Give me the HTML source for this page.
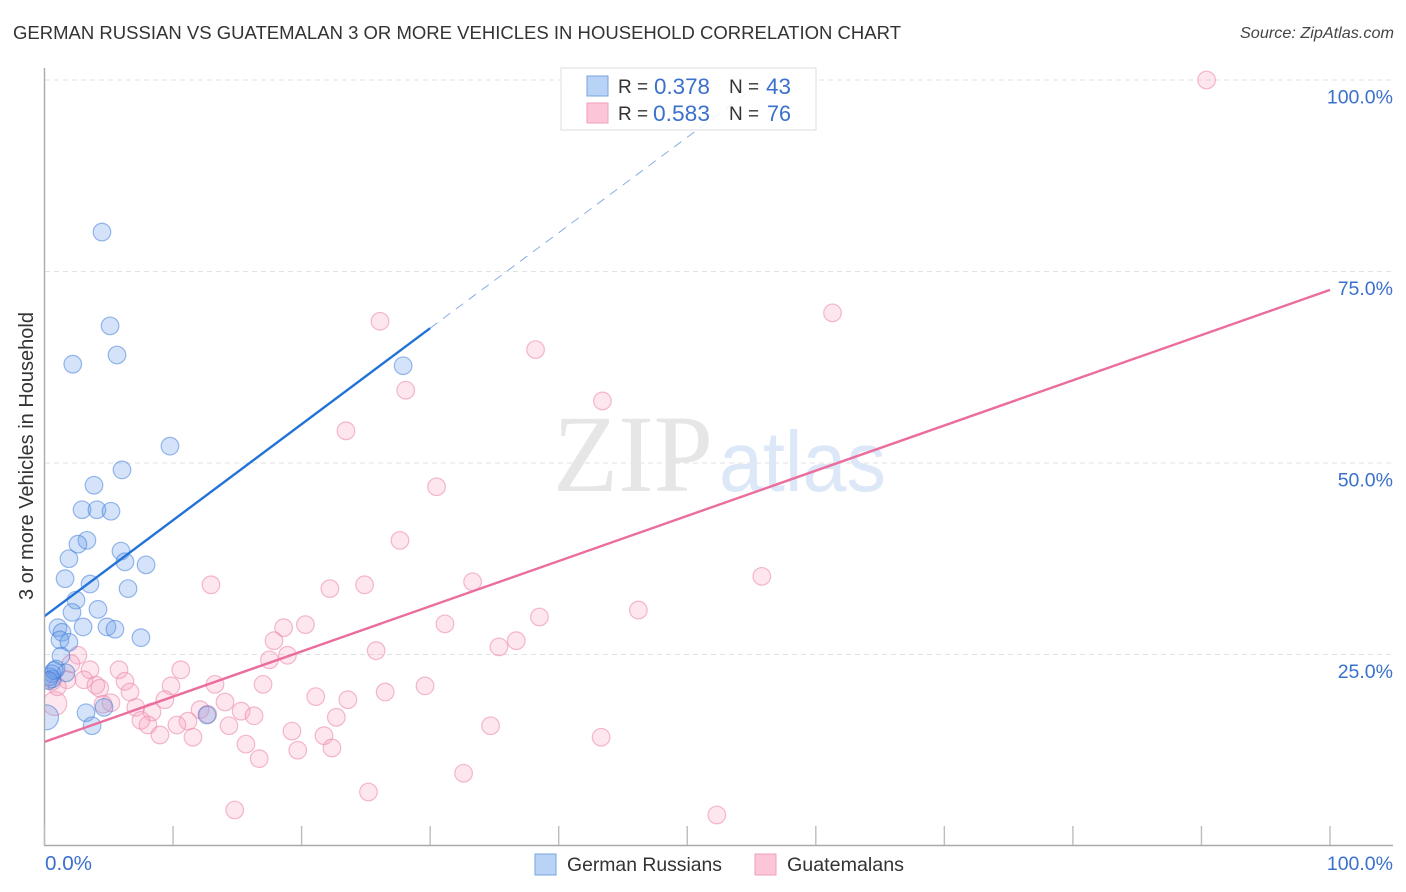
<!DOCTYPE html>
<html lang="en">
<head>
<meta charset="utf-8">
<title>German Russian vs Guatemalan Correlation Chart</title>
<style>
html,body{margin:0;padding:0;background:#fff;width:1406px;height:892px;overflow:hidden}
svg{display:block}
text{font-family:"Liberation Sans",sans-serif}
</style>
</head>
<body>
<svg id="chart" width="1406" height="892" viewBox="0 0 1406 892" xmlns="http://www.w3.org/2000/svg">
  <defs>
    <clipPath id="plot-clip"><rect x="45" y="60" width="1350" height="786"/></clipPath>
  </defs>
  <text x="13" y="39" font-size="18.5" fill="#333" textLength="888" lengthAdjust="spacing">GERMAN RUSSIAN VS GUATEMALAN 3 OR MORE VEHICLES IN HOUSEHOLD CORRELATION CHART</text>
  <text x="1394" y="38" font-size="16" font-style="italic" fill="#444" text-anchor="end" textLength="154" lengthAdjust="spacingAndGlyphs">Source: ZipAtlas.com</text>
  <g id="grid"></g>
  <g>
    <text x="553" y="491" font-size="110" fill="#e6e6e6" style="font-family:'Liberation Serif',serif" textLength="160" lengthAdjust="spacingAndGlyphs">ZIP</text>
    <text x="719" y="491" font-size="85" fill="#dce8f8" textLength="167" lengthAdjust="spacingAndGlyphs">atlas</text>
  </g>
  <g id="points" clip-path="url(#plot-clip)"></g>
  <g id="lines"></g>
  <g id="axes"></g>
  <text transform="translate(33,456) rotate(-90)" font-size="20" fill="#333" text-anchor="middle" textLength="288" lengthAdjust="spacingAndGlyphs">3 or more Vehicles in Household</text>
  <g>
    <rect x="561" y="68" width="255" height="62" fill="#fff" fill-opacity="0.86" stroke="#e2e2e2" stroke-width="1.2"/>
    <rect x="587" y="76" width="21" height="20" fill="#b9d3f6" stroke="#77a6dd"/>
    <rect x="587" y="103" width="21" height="20" fill="#fcc5d8" stroke="#f0a0bb"/>
    <text x="618" y="93" font-size="19" fill="#333">R =</text>
    <text x="654" y="94" font-size="22" fill="#3b70cc" textLength="56" lengthAdjust="spacingAndGlyphs">0.378</text>
    <text x="729" y="93" font-size="19" fill="#333">N =</text>
    <text x="766" y="94" font-size="22" fill="#3b70cc" textLength="25" lengthAdjust="spacingAndGlyphs">43</text>
    <text x="618" y="120" font-size="19" fill="#333">R =</text>
    <text x="653" y="121" font-size="22" fill="#3b70cc" textLength="57" lengthAdjust="spacingAndGlyphs">0.583</text>
    <text x="729" y="120" font-size="19" fill="#333">N =</text>
    <text x="767" y="121" font-size="22" fill="#3b70cc" textLength="24" lengthAdjust="spacingAndGlyphs">76</text>
  </g>
  <g>
    <rect x="535" y="854" width="21" height="21" fill="#b9d3f6" stroke="#77a6dd"/>
    <text x="567" y="871" font-size="19.5" fill="#333" textLength="155" lengthAdjust="spacingAndGlyphs">German Russians</text>
    <rect x="755" y="854" width="21" height="21" fill="#fcc5d8" stroke="#f0a0bb"/>
    <text x="787" y="871" font-size="19.5" fill="#333" textLength="117" lengthAdjust="spacingAndGlyphs">Guatemalans</text>
  </g>
</svg>
<script>
const xTickValues = [0, 10, 20, 30, 40, 50, 60, 70, 80, 90, 100];
const yGridValues = [25, 50, 75, 100];
const yTickLabels = ["25.0%", "50.0%", "75.0%", "100.0%"];
const xEndLabels = ["0.0%", "100.0%"];

const blueX = [4.47,5.1,5.64,2.2,27.9,9.76,6.03,3.85,2.92,4.08,5.17,3.3,2.6,5.95,1.9,6.26,7.9,1.6,3.54,6.5,2.45,4.16,2.14,1.05,3.0,4.86,5.48,1.36,7.5,1.2,1.9,1.28,0.9,1.67,0.58,0.43,0.58,0.75,0.3,12.64,3.23,4.63,3.7];
const blueY = [80.15,67.9,64.1,62.9,62.7,52.2,49.1,47.1,43.9,43.9,43.7,39.9,39.4,38.5,37.5,37.1,36.7,34.9,34.2,33.6,32.1,30.9,30.5,28.5,28.6,28.6,28.3,27.9,27.2,26.9,26.6,24.8,23.1,22.6,22.5,22.1,21.8,22.9,21.6,17.1,17.4,18.1,15.7];
const blueLargeX = [0.12];
const blueLargeY = [16.8];

const pinkX = [90.4,26.1,61.3,38.2,28.1,43.4,23.45,30.5,27.65,55.8,12.95,33.3,22.2,24.9,46.2,38.5,31.15,20.3,18.6,17.85,36.7,35.35,25.8,18.9,17.5,2.6,2.06,3.54,5.8,10.6,6.26,1.75,3.07,4.0,4.3,13.26,17.0,29.6,6.65,9.84,26.5,21.1,23.6,9.36,14.04,5.17,4.55,7.1,12.1,8.36,15.3,16.3,22.7,7.5,12.7,11.16,8.05,10.3,14.35,34.7,8.98,11.55,19.25,21.74,43.3,15.67,19.7,22.36,16.7,32.6,25.2,14.8,52.3,1.0,0.6];
const pinkY = [100,68.5,69.6,64.8,59.5,58.1,54.2,46.9,39.9,35.2,34.1,34.5,33.6,34.1,30.8,29.9,29.0,28.9,28.5,26.8,26.8,26.0,25.5,24.9,24.3,24.9,23.8,23.0,23.0,23.0,21.5,21.7,21.7,21.0,20.6,21.1,21.1,20.9,20.1,20.9,20.1,19.5,19.1,19.1,18.8,18.7,18.5,18.1,17.8,17.5,17.6,17.0,16.8,16.4,17.2,16.3,15.8,15.8,15.7,15.7,14.5,14.2,15.0,14.4,14.2,13.3,12.5,12.8,11.4,9.5,7.05,4.7,4.05,20.8,21.5];
const pinkLargeX = [0.8];
const pinkLargeY = [18.6];

const blueLineX = [0, 30];
const blueLineY = [30.0, 67.6];
const blueDashX = [30, 56];
const blueDashY = [67.6, 100];
const pinkLineX = [0, 100];
const pinkLineY = [13.6, 72.6];

const SVGNS = "http://www.w3.org/2000/svg";
const xScale = v => 44.5 + v * 12.855;
const yScale = v => 846 - v * 7.66;

function make(parent, tag, attrs) {
  const el = document.createElementNS(SVGNS, tag);
  for (const k in attrs) el.setAttribute(k, attrs[k]);
  document.getElementById(parent).appendChild(el);
  return el;
}

yGridValues.forEach(v => {
  const gl = make("grid", "line", {x1: 45, x2: 1393, y1: yScale(v), y2: yScale(v), stroke: "#e2e2e2", "stroke-width": 1, "stroke-dasharray": "5 4"});
  
  
});
yGridValues.forEach((v, i) => {
  const t = make("axes", "text", {x: 1393, y: yScale(v) + 23.5, "font-size": 19.5, fill: "#3b70cc", "text-anchor": "end"});
  t.textContent = yTickLabels[i];
  
  
});

function drawPoints(xs, ys, radius, fill, stroke, name) {
  xs.forEach((x, i) => {
    const c = make("points", "circle", {cx: xScale(x), cy: yScale(ys[i]), r: radius, fill: fill, stroke: stroke, "stroke-width": 1.2});
    
    
  });
}
const PINK_FILL = "rgba(246,160,188,0.26)", PINK_STROKE = "rgba(236,140,172,0.6)";
const BLUE_FILL = "rgba(100,155,232,0.28)", BLUE_STROKE = "rgba(55,120,215,0.5)";
drawPoints(pinkLargeX, pinkLargeY, 12, PINK_FILL, PINK_STROKE, "guatemalans-point");
drawPoints(pinkX, pinkY, 8.8, PINK_FILL, PINK_STROKE, "guatemalans-point");
drawPoints(blueLargeX, blueLargeY, 12.5, BLUE_FILL, BLUE_STROKE, "german-russians-point");
drawPoints(blueX, blueY, 8.8, BLUE_FILL, BLUE_STROKE, "german-russians-point");

function drawLine(xs, ys, stroke, width, dash, name) {
  const l = make("lines", "line", {x1: xScale(xs[0]), y1: yScale(ys[0]), x2: xScale(xs[1]), y2: yScale(ys[1]), stroke: stroke, "stroke-width": width});
  if (dash) l.setAttribute("stroke-dasharray", dash);
  
  
}
drawLine(blueDashX, blueDashY, "#86aee6", 1, "9 7", "german-russians-trend-extension");
drawLine(blueLineX, blueLineY, "#2272d8", 2.4, null, "german-russians-trend-line");
drawLine(pinkLineX, pinkLineY, "#ea6d9e", 2.4, null, "guatemalans-trend-line");

const yAxis = make("axes", "line", {x1: 44.5, x2: 44.5, y1: 68, y2: 846, stroke: "#aaa", "stroke-width": 1.4});


const xAxis = make("axes", "line", {x1: 44, x2: 1393, y1: 845.5, y2: 845.5, stroke: "#aaa", "stroke-width": 1.4});


xTickValues.forEach(v => {
  const tk = make("axes", "line", {x1: xScale(v), x2: xScale(v), y1: 826, y2: 845, stroke: "#bdbdbd", "stroke-width": 1.4});
  
  
});
const x0 = make("axes", "text", {x: 45, y: 870, "font-size": 20, fill: "#3b70cc", textLength: 47, lengthAdjust: "spacingAndGlyphs"});
x0.textContent = xEndLabels[0];


const x1 = make("axes", "text", {x: 1393, y: 870, "font-size": 19.5, fill: "#3b70cc", "text-anchor": "end"});
x1.textContent = xEndLabels[1];


</script>
</body>
</html>
